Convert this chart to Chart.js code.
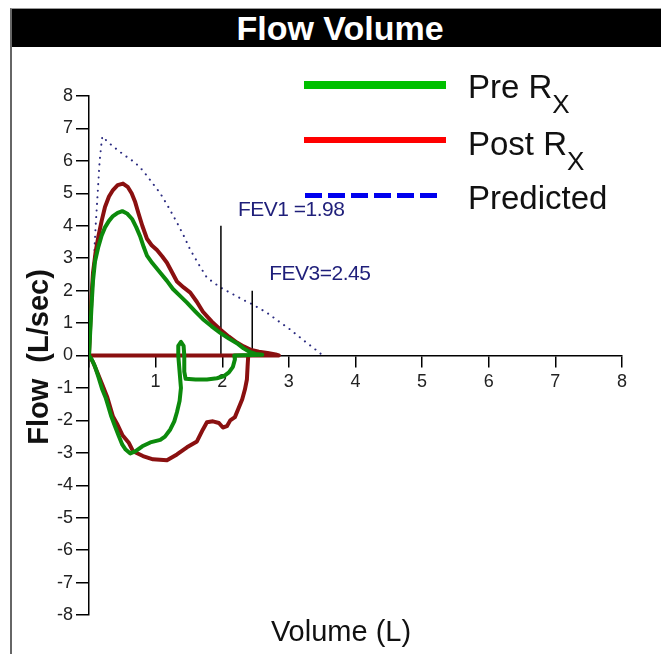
<!DOCTYPE html>
<html lang="en">
  <head>
    <meta charset="UTF-8" />
    <meta name="viewport" content="width=device-width, initial-scale=1.0" />
    <title>Flow Volume</title>
    <script src="https://cdn.jsdelivr.net/npm/chart.js"></script>
    <style>
      body { margin: 0; background: #fff; font-family: "Liberation Sans", Arial, sans-serif; }
      .flow-volume { position: relative; width: 661px; height: 654px; overflow: hidden; }
      #flowVolumeChart { position: absolute; left: 0; top: 0; }
      .frame { position: absolute; left: 10px; top: 8px; width: 651px; height: 646px;
        border-left: 2px solid #666; border-top: 1px solid #999; box-sizing: border-box; }
      .title-bar { position: absolute; left: 12px; top: 9px; width: 649px; height: 38px;
        box-sizing: border-box; padding-left: 7px; background: #000; color: #fff;
        font-weight: bold; font-size: 34px; line-height: 38px; text-align: center; }
      .key-line { position: absolute; left: 304px; width: 142px; }
      .key-text { position: absolute; left: 468px; font-size: 33px; line-height: 33px;
        color: #111; white-space: nowrap; }
      .key-text span { font-size: 26px; position: relative; top: 15px; }
      .x-title { position: absolute; left: 241px; top: 617px; width: 200px; text-align: center;
        font-size: 29px; line-height: 29px; color: #111; }
      .y-title { position: absolute; left: -72px; top: 340px; width: 220px; height: 34px;
        line-height: 34px; text-align: center; font-size: 29px; font-weight: bold;
        color: #111; white-space: pre; transform: rotate(-90deg); }
    </style>
  </head>
  <body>
    <div class="flow-volume">
      <canvas id="flowVolumeChart" width="661" height="654"></canvas>
      <div class="frame"></div>
      <div class="title-bar">Flow Volume</div>

      <div class="key-line" style="top:81px;height:8px;background:#00c000"></div>
      <div class="key-text" style="top:70px">Pre R<span>X</span></div>
      <div class="key-line" style="top:137px;height:6px;background:#ff0000"></div>
      <div class="key-text" style="top:127px">Post R<span>X</span></div>
      <div class="key-line" style="top:193px;height:5px;width:136px;left:305px;
        background:repeating-linear-gradient(to right,#0000ee 0 17px,transparent 17px 23px)"></div>
      <div class="key-text" style="top:181px">Predicted</div>

      <div class="x-title">Volume (L)</div>
      <div class="y-title">Flow  (L/sec)</div>
    </div>
  </body>
  <script>
    // Pre-treatment loop (volume L, flow L/sec), expiration then inspiration
    const preVolume = [0, 0.02, 0.04, 0.06, 0.09, 0.14, 0.19, 0.24, 0.3, 0.36, 0.43, 0.5, 0.57, 0.65, 0.71,
      0.77, 0.82, 0.87, 0.95, 1.07, 1.17, 1.26, 1.37, 1.47, 1.59, 1.71, 1.84, 1.97, 2.1, 2.22, 2.32,
      2.42, 2.5, 2.6, 2.18, 2.19, 2.16, 2.1, 2.02, 1.92, 1.77, 1.6, 1.45, 1.43, 1.43, 1.42, 1.38,
      1.34, 1.34, 1.36, 1.38, 1.36, 1.32, 1.28, 1.22, 1.14, 1.07, 0.92, 0.8, 0.7, 0.62, 0.55, 0.5,
      0.45, 0.39, 0.33, 0.29, 0.25, 0.2, 0.14, 0.09, 0.04, 0];
    const preFlow = [0, 0.8, 1.6, 2.3, 2.9, 3.35, 3.7, 3.95, 4.15, 4.3, 4.4, 4.45, 4.38, 4.2, 3.95,
      3.66, 3.35, 3.08, 2.85, 2.55, 2.3, 2.05, 1.83, 1.63, 1.37, 1.12, 0.9, 0.7, 0.52, 0.38, 0.22,
      0.1, 0.05, 0.02, 0, -0.12, -0.35, -0.52, -0.64, -0.7, -0.74, -0.74, -0.72, -0.5, 0, 0.3, 0.42,
      0.3, 0, -0.5, -1.0, -1.4, -1.75, -2.03, -2.28, -2.5, -2.6, -2.68, -2.8, -2.95, -3.02, -2.9, -2.75,
      -2.5, -2.18, -1.85, -1.57, -1.3, -1.05, -0.65, -0.34, -0.12, 0];

    // Post-treatment loop, starting with the baseline it traces along zero flow
    const postVolume = [2.39, 0, 0.02, 0.04, 0.06, 0.1, 0.14, 0.19, 0.24, 0.3, 0.36, 0.43, 0.51, 0.58,
      0.64, 0.69, 0.74, 0.8, 0.87, 0.94, 1.02, 1.1, 1.17, 1.25, 1.32, 1.42, 1.52, 1.62, 1.71, 1.84,
      1.97, 2.1, 2.22, 2.32, 2.42, 2.55, 2.68, 2.8, 2.85, 2.39, 2.38, 2.37, 2.34, 2.3, 2.24, 2.19,
      2.12, 2.07, 2.01, 1.95, 1.86, 1.77, 1.71, 1.62, 1.47, 1.32, 1.17, 0.96, 0.81, 0.66, 0.6, 0.5,
      0.42, 0.36, 0.27, 0.2, 0.13, 0.06, 0];
    const postFlow = [0, 0, 1.0, 1.9, 2.55, 3.2, 3.66, 4.15, 4.58, 4.9, 5.1, 5.25, 5.3, 5.2,
      5.0, 4.75, 4.4, 4.0, 3.6, 3.4, 3.25, 3.05, 2.86, 2.55, 2.28, 2.1, 1.94, 1.65, 1.35, 1.05,
      0.8, 0.58, 0.4, 0.28, 0.18, 0.12, 0.08, 0.03, 0, 0, -0.35, -0.74, -1.05, -1.35, -1.65, -1.9,
      -2.0, -2.18, -2.22, -2.08, -2.03, -2.06, -2.28, -2.65, -2.83, -3.05, -3.23, -3.2, -3.1, -2.95, -2.7, -2.45,
      -2.1, -1.88, -1.26, -0.9, -0.55, -0.2, 0];

    // Predicted expiratory curve
    const predVolume = [0, 0.03, 0.06, 0.1, 0.13, 0.16, 0.19, 0.2, 0.3, 0.45, 0.57, 0.69, 0.81, 0.94,
      1.07, 1.2, 1.32, 1.42, 1.52, 1.65, 1.77, 1.97, 2.15, 2.31, 2.46, 2.67, 2.85, 3.02, 3.25, 3.44, 3.48];
    const predFlow = [0, 1.3, 2.4, 4.0, 5.0, 6.0, 6.6, 6.75, 6.55, 6.3, 6.12, 5.95, 5.7, 5.35,
      5.0, 4.55, 4.1, 3.7, 3.26, 2.8, 2.4, 2.1, 1.9, 1.72, 1.57, 1.32, 1.05, 0.8, 0.42, 0.12, 0.05];

    // FEV markers: volume, height of the marker line, label
    const fevVolume = [1.98, 2.45];
    const fevMarkTop = [4, 2];
    const fevLabels = ["FEV1 =1.98", "FEV3=2.45"];

    const volumeMin = 0, volumeMax = 8;
    const flowMin = -8, flowMax = 8;

    const toPoints = (xs, ys) => xs.map((x, i) => ({x: x, y: ys[i]}));

    Chart.defaults.font.family = '"Liberation Sans", Arial, sans-serif';

    const curve = (label, data, color, width) => ({
      label: label,
      data: data,
      showLine: true,
      borderColor: color,
      borderWidth: width,
      borderJoinStyle: "round",
      pointRadius: 0,
      fill: false,
    });

    // Writes the FEV values next to their marker lines
    const fevLabelPlugin = {
      id: "fevLabels",
      afterDatasetsDraw(chart) {
        const {ctx, scales: {x, y}} = chart;
        ctx.save();
        ctx.font = '21px "Liberation Sans", Arial, sans-serif';
        ctx.fillStyle = "#1f1f7a";
        ctx.textBaseline = "middle";
        if ("letterSpacing" in ctx) ctx.letterSpacing = "-0.5px";
        fevVolume.forEach((v, i) => {
          ctx.fillText(fevLabels[i], x.getPixelForValue(v) + 17, y.getPixelForValue(fevMarkTop[i]) - 16);
        });
        ctx.restore();
      },
    };

    const ctx = document.getElementById("flowVolumeChart").getContext("2d");
    const flowVolumeChart = new Chart(ctx, {
      type: "scatter",
      data: {
        datasets: [
          curve("Pre Rx", toPoints(preVolume, preFlow), "#0c8a0c", 4),
          curve("Post Rx", toPoints(postVolume, postFlow), "#8a1010", 4),
          curve("FEV1", toPoints([fevVolume[0], fevVolume[0]], [0, fevMarkTop[0]]), "#000", 1.5),
          curve("FEV3", toPoints([fevVolume[1], fevVolume[1]], [0, fevMarkTop[1]]), "#000", 1.5),
          {
            ...curve("Predicted", toPoints(predVolume, predFlow), "#2b2b80", 2),
            borderDash: [0.1, 6.5],
            borderCapStyle: "round",
          },
        ],
      },
      options: {
        responsive: false,
        animation: false,
        layout: {padding: {top: 96, right: 39, bottom: 39, left: 0}},
        plugins: {legend: {display: false}, tooltip: {enabled: false}},
        scales: {
          x: {
            type: "linear",
            position: "center",
            min: volumeMin,
            max: volumeMax,
            ticks: {
              stepSize: 1,
              autoSkip: false,
              maxRotation: 0,
              padding: 5,
              color: "#222",
              font: {size: 18},
              callback: (v) => (v === 0 ? "" : v),
            },
            grid: {drawOnChartArea: false, tickLength: 11, color: "#000", lineWidth: 1.5},
            border: {color: "#000", width: 1.5},
          },
          y: {
            type: "linear",
            position: "left",
            min: flowMin,
            max: flowMax,
            ticks: {stepSize: 1, autoSkip: false, padding: 3, color: "#222", font: {size: 18}},
            grid: {drawOnChartArea: false, tickLength: 13, color: "#000", lineWidth: 1.5},
            border: {color: "#000", width: 1.5},
            afterFit: (scale) => {
              scale.width = 89;
            },
          },
        },
      },
      plugins: [fevLabelPlugin],
    });
  </script>
</html>
